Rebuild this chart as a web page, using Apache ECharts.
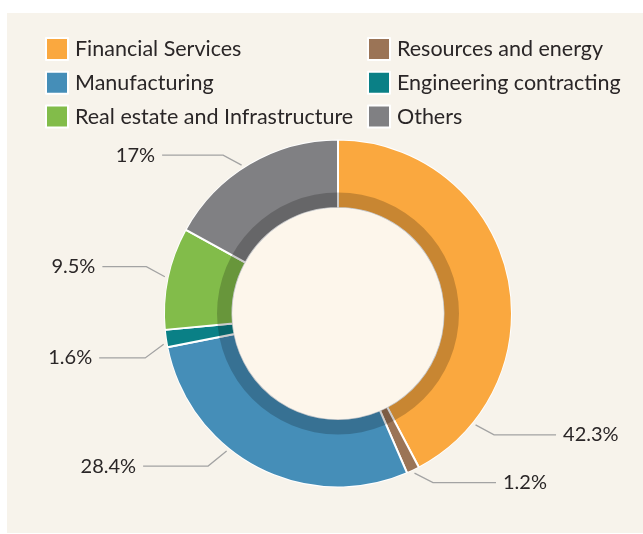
<!DOCTYPE html>
<html lang="en">
<head>
    <meta charset="UTF-8">
    <title>Portfolio by sector</title>
    <script src="https://cdn.jsdelivr.net/npm/echarts@6/dist/echarts.min.js"></script>
    <style>
        body { margin: 0; background: #fff; }
        #chart { width: 643px; height: 534px; }
    </style>
</head>
<body>
<div id="chart"></div>
<script>
// data
const categories = ['Financial Services', 'Resources and energy', 'Manufacturing',
                    'Engineering contracting', 'Real estate and Infrastructure', 'Others'];
const shares = [42.3, 1.2, 28.4, 1.6, 9.5, 17];
const colors = ['#faa83f', '#9b7456', '#458eb8', '#0a8086', '#82bc4a', '#808083'];

// legend columns (read row by row in the picture)
const legendLeft = ['Financial Services', 'Manufacturing', 'Real estate and Infrastructure'];
const legendRight = ['Resources and energy', 'Engineering contracting', 'Others'];

// ring geometry
const cx = 338, cy = 313.5;
const outerR = 174, shadeR = 121, holeR = 105.5;

// where each label line leaves the ring (degrees clockwise from top)
const labelAngle = [129, 154.4, 219, 260, 282, 327];
const labelBendY = [10, 9.5, 15, 13.7, -10, -10];
const labelRun = [62, 63, 65, 46, 44, 61];

const panelColor = '#f7f3eb';
const textColor = '#2a2627';
const font = 'Lato';

const chart = echarts.init(document.getElementById('chart'));

const legendBase = {
    orient: 'vertical',
    top: 37,
    padding: 0,
    itemWidth: 22,
    itemHeight: 22,
    itemGap: 9.8,
    icon: 'rect',
    selectedMode: false,
    textStyle: {
        fontFamily: font, fontSize: 21.5, lineHeight: 22,
        color: textColor, padding: [0, 0, 0, 2]
    }
};

chart.setOption({
    backgroundColor: '#ffffff',
    animation: false,
    graphic: [{
        type: 'rect',
        z: -10,
        silent: true,
        shape: { x: 7, y: 13, width: 640, height: 520 },
        style: { fill: panelColor }
    }],
    legend: [
        Object.assign({ left: 45, data: legendLeft }, legendBase),
        Object.assign({ left: 367, data: legendRight }, legendBase)
    ],
    series: [
        {
            type: 'pie',
            center: [cx, cy],
            radius: [holeR, outerR],
            startAngle: 90,
            avoidLabelOverlap: false,
            itemStyle: { borderColor: '#ffffff', borderWidth: 2 },
            emphasis: { disabled: true },
            label: {
                show: true,
                position: 'outside',
                formatter: p => p.value + '%',
                fontFamily: font,
                fontSize: 20,
                color: textColor
            },
            labelLine: { show: true, lineStyle: { color: '#a3a3a3', width: 1.3 } },
            labelLayout: function (p) {
                const i = p.dataIndex;
                const a = labelAngle[i] * Math.PI / 180;
                const r = outerR + 3;
                const sx = cx + r * Math.sin(a);
                const sy = cy - r * Math.cos(a);
                const right = Math.sin(a) > 0;
                const dir = right ? 1 : -1;
                const bx = sx + dir * 18.5;
                const by = sy + labelBendY[i];
                const ex = bx + dir * labelRun[i];
                return {
                    x: ex + dir * 7,
                    y: by,
                    align: right ? 'left' : 'right',
                    verticalAlign: 'middle',
                    labelLinePoints: [[sx, sy], [bx, by], [ex, by]]
                };
            },
            data: categories.map((name, i) => ({
                name: name,
                value: shares[i],
                itemStyle: { color: colors[i] }
            }))
        },
        // darker inner band of the ring
        {
            type: 'pie',
            center: [cx, cy],
            radius: [holeR, shadeR],
            silent: true,
            z: 3,
            label: { show: false },
            labelLine: { show: false },
            emphasis: { disabled: true },
            data: [{ name: 'shade', value: 1, itemStyle: { color: 'rgba(0,0,0,0.2)' } }]
        },
        // hole and outer trim, hide the white outline of the ring
        {
            type: 'pie',
            center: [cx, cy],
            radius: [0, holeR],
            silent: true,
            z: 4,
            label: { show: false },
            labelLine: { show: false },
            emphasis: { disabled: true },
            data: [{ name: 'hole', value: 1, itemStyle: { color: '#fdf6eb' } }]
        },
        {
            type: 'pie',
            center: [cx, cy],
            radius: [outerR, outerR + 2],
            silent: true,
            z: 4,
            label: { show: false },
            labelLine: { show: false },
            emphasis: { disabled: true },
            data: [{ name: 'trim', value: 1, itemStyle: { color: panelColor } }]
        }
    ]
});
</script>
</body>
</html>
